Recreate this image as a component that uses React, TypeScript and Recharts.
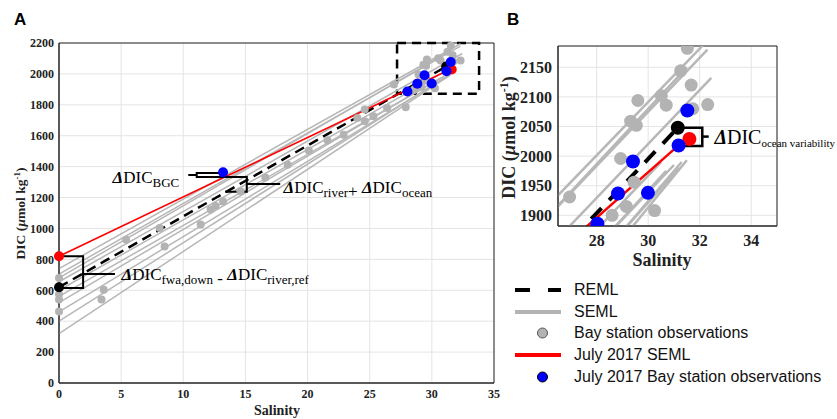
// DIC vs salinity mixing lines: full range (A) and ocean end-member zoom (B)
import React from "react"
import {
  CartesianGrid,
  ComposedChart,
  Line,
  ReferenceArea,
  ReferenceDot,
  Scatter,
  XAxis,
  YAxis,
} from "recharts"

// SEML fits, one entry per line: DIC at salinity 0 and the ocean end point
const semlIntercept = [740, 705, 680, 655, 600, 560, 520, 460, 400, 320]
const semlEndSalinity = [32.3, 32.3, 31.5, 32.45, 30.5, 31.0, 30.7, 31.2, 31.3, 31.5]
const semlEndDic = [2195, 2180, 2150, 2132, 1990, 1985, 1975, 1980, 1990, 1993]

// REML (dashed) end members
const remlSalinity = [0, 31.15]
const remlDic = [620, 2048]

// July 2017 SEML line and its end members
const julySemlSalinity = [0, 31.2]
const julySemlDic = [820, 2019]
const julyEndSalinity = [0, 31.6]
const julyEndDic = [820, 2029]

// Bay station observations (grey)
const baySalinity = [
  0, 0, 0, 0, 3.42, 3.6, 5.4, 8.1, 8.5, 11.4, 12.2, 12.6, 13.2, 14.6, 16.6, 18.4,
  20.1, 21.6, 22.9, 24.0, 24.6, 24.6, 25.3, 26.4, 27.9, 26.95, 28.6, 28.93, 29.15,
  29.45, 30.25, 29.32, 29.54, 29.6, 30.51, 30.7, 31.73, 32.31, 31.67, 31.26, 31.52,
]
const bayDic = [
  680, 575, 540, 463, 541, 604, 927, 1003, 884, 1025, 1122, 1145, 1175, 1240, 1330, 1413,
  1505, 1570, 1607, 1715, 1693, 1769, 1726, 1780, 1785, 1931, 1900, 1996, 1915,
  1956, 1908, 2059, 2052, 2094, 2102, 2086, 2080, 2087, 2120, 2144, 2182,
]

// July 2017 bay station observations (blue)
const julyObsSalinity = [13.2, 28.03, 28.83, 29.99, 29.41, 31.18, 31.52]
const julyObsDic = [1363, 1886, 1937, 1938, 1991, 2018, 2077]

const ticksAX = [0, 5, 10, 15, 20, 25, 30, 35]
const ticksAY = [0, 200, 400, 600, 800, 1000, 1200, 1400, 1600, 1800, 2000, 2200]
const ticksBX = [28, 30, 32, 34]
const ticksBY = [1900, 1950, 2000, 2050, 2100, 2150]

// annotation brackets, [salinity, DIC]
const bracketFwa = [[0, 820], [1.94, 820], [1.94, 615], [0, 615]]
const pointerFwa = [[1.8, 705], [4.5, 705]]
const bracketBgc = [[13.1, 1359], [11.08, 1359], [11.08, 1333], [15.11, 1333], [15.11, 1238], [13.36, 1238]]
const pointerBgc = [[10.4, 1346], [11.08, 1346]]
const pointerRiver = [[15.11, 1288], [17.8, 1288]]
const bracketOcean = [[31.15, 2048], [32.1, 2048], [32.1, 2017], [31.2, 2017]]
const pointerOcean = [[32.1, 2033], [32.35, 2033]]

const SERIF = "'Liberation Serif', 'Times New Roman', serif"
const SANS = "'Liberation Sans', Arial, sans-serif"

type Pt = { s: number; d: number }
const pts = (s: number[], d: number[]): Pt[] => s.map((v, i) => ({ s: v, d: d[i] }))
const path = (a: number[][]): Pt[] => a.map(([s, d]) => ({ s, d }))

const semlLines = semlIntercept.map((d0, i) => [
  { s: 0, d: d0 },
  { s: semlEndSalinity[i], d: semlEndDic[i] },
])
const remlPts = pts(remlSalinity, remlDic)
const julySemlPts = pts(julySemlSalinity, julySemlDic)
const julyEndPts = pts(julyEndSalinity, julyEndDic)
const bayPts = pts(baySalinity, bayDic)
const julyObsPts = pts(julyObsSalinity, julyObsDic)

const circle = (r: number, fill: string) => (p: any) =>
  <circle cx={p.cx} cy={p.cy} r={r} fill={fill} />

type Sizes = {
  grayW: number
  grayR: number
  dotR: number
  dash: string
  dashW: number
  redW: number
}
const sizeA: Sizes = { grayW: 1.5, grayR: 4, dotR: 5, dash: "10 6", dashW: 2.5, redW: 1.6 }
const sizeB: Sizes = { grayW: 2.5, grayR: 6.5, dotR: 7, dash: "15 11", dashW: 4, redW: 2.5 }

function series(sz: Sizes) {
  return [
    ...semlLines.map((data, i) => (
      <Line key={`seml${i}`} data={data} dataKey="d" stroke="#b7b7b7" strokeWidth={sz.grayW}
        dot={false} activeDot={false} isAnimationActive={false} />
    )),
    <Scatter key="bay" data={bayPts} dataKey="d" shape={circle(sz.grayR, "#b3b3b3")} isAnimationActive={false} />,
    <Line key="reml" data={remlPts} dataKey="d" stroke="#000" strokeWidth={sz.dashW}
      strokeDasharray={sz.dash} dot={false} activeDot={false} isAnimationActive={false} />,
    <Line key="july" data={julySemlPts} dataKey="d" stroke="#ff0000" strokeWidth={sz.redW}
      dot={false} activeDot={false} isAnimationActive={false} />,
    <Scatter key="remlEnd" data={remlPts} dataKey="d" shape={circle(sz.dotR, "#000")} isAnimationActive={false} />,
    <Scatter key="julyEnd" data={julyEndPts} dataKey="d" shape={circle(sz.dotR, "#ff0000")} isAnimationActive={false} />,
    <Scatter key="julyObs" data={julyObsPts} dataKey="d" shape={circle(sz.dotR, "#0000ff")} isAnimationActive={false} />,
  ]
}

function annLine(key: string, a: number[][], w: number) {
  return (
    <Line key={key} data={path(a)} dataKey="d" stroke="#000" strokeWidth={w}
      dot={false} activeDot={false} isAnimationActive={false} />
  )
}

// "ΔDIC_sub" terms joined by separators, anchored at baseline-left
function deltaLabel(terms: string[], seps: string[], main: number, sub: number) {
  const shift = Math.round(sub * 0.3)
  return (props: any) => {
    const { x, y } = props.viewBox
    const parts: React.ReactNode[] = []
    terms.forEach((t, i) => {
      parts.push(<tspan key={`d${i}`} fontWeight="bold" fontStyle="italic" dy={i > 0 ? -shift : 0}>Δ</tspan>)
      parts.push(<tspan key={`m${i}`}>DIC</tspan>)
      parts.push(<tspan key={`s${i}`} fontSize={sub} dy={shift}>{t}</tspan>)
      if (seps[i]) parts.push(<tspan key={`p${i}`}>{seps[i]}</tspan>)
    })
    return (
      <text x={x} y={y} fontFamily={SERIF} fontSize={main} fill="#000" style={{ whiteSpace: "pre" }}>
        {parts}
      </text>
    )
  }
}

const tickA = { fontFamily: SERIF, fontSize: 12, fontWeight: "bold", fill: "#222" }
const tickB = { fontFamily: SERIF, fontSize: 16, fontWeight: "bold", fill: "#222" }

function PanelA() {
  return (
    <ComposedChart width={500} height={419} margin={{ top: 43, right: 6, bottom: 16, left: 0 }}>
      <CartesianGrid stroke="#e4e4e4" />
      <XAxis type="number" dataKey="s" domain={[0, 35]} ticks={ticksAX} interval={0} height={20}
        tick={tickA} tickLine={false} tickSize={4} tickMargin={2} axisLine={{ stroke: "#262626" }} />
      <YAxis type="number" dataKey="d" domain={[0, 2200]} ticks={ticksAY} interval={0} width={59}
        tick={tickA} tickLine={false} tickSize={3} tickMargin={2} axisLine={{ stroke: "#262626" }} />
      <ReferenceArea x1={0} x2={35} y1={0} y2={2200} fill="none" fillOpacity={0} stroke="#262626" />
      {series(sizeA)}
      <ReferenceArea x1={27.2} x2={33.8} y1={1872} y2={2200} fill="none" fillOpacity={0}
        stroke="#000" strokeWidth={2.5} strokeDasharray="9 6" />
      {annLine("bFwa", bracketFwa, 2)}
      {annLine("pFwa", pointerFwa, 2)}
      {annLine("bBgc", bracketBgc, 2)}
      {annLine("pBgc", pointerBgc, 2)}
      {annLine("pRiver", pointerRiver, 2)}
      <ReferenceDot x={4.31} y={1294} r={0} fill="none" stroke="none" ifOverflow="visible"
        label={deltaLabel(["BGC"], [], 17, 13)} />
      <ReferenceDot x={18.07} y={1230} r={0} fill="none" stroke="none" ifOverflow="visible"
        label={deltaLabel(["river", "ocean"], ["+ "], 17, 13)} />
      <ReferenceDot x={5.03} y={669} r={0} fill="none" stroke="none" ifOverflow="visible"
        label={deltaLabel(["fwa,down", "river,ref"], [" - "], 17, 13)} />
    </ComposedChart>
  )
}

function PanelB() {
  return (
    <ComposedChart width={337} height={419} margin={{ top: 46, right: 60, bottom: 163, left: 0 }}>
      <CartesianGrid stroke="#e4e4e4" />
      <XAxis type="number" dataKey="s" domain={[26.5, 35]} ticks={ticksBX} interval={0} height={30}
        allowDataOverflow tick={tickB} tickLine={false} tickSize={6} tickMargin={3}
        axisLine={{ stroke: "#262626" }} />
      <YAxis type="number" dataKey="d" domain={[1882, 2186]} ticks={ticksBY} interval={0} width={58}
        allowDataOverflow tick={tickB} tickLine={false} tickSize={4} tickMargin={2}
        axisLine={{ stroke: "#262626" }} />
      <ReferenceArea x1={26.5} x2={35} y1={1882} y2={2186} fill="none" fillOpacity={0} stroke="#262626" />
      {series(sizeB)}
      {annLine("bOcean", bracketOcean, 2.5)}
      {annLine("pOcean", pointerOcean, 2.5)}
      <ReferenceDot x={32.57} y={2021} r={0} fill="none" stroke="none" ifOverflow="visible"
        label={deltaLabel(["ocean variability"], [], 20, 11)} />
    </ComposedChart>
  )
}

const legendItems = [
  { label: "REML", kind: "dash" },
  { label: "SEML", kind: "gray" },
  { label: "Bay station observations", kind: "grayDot" },
  { label: "July 2017 SEML", kind: "red" },
  { label: "July 2017 Bay station observations", kind: "blueDot" },
]

function LegendMark({ kind }: { kind: string }) {
  return (
    <svg width={50} height={14}>
      {kind === "dash" && <line x1={2} x2={48} y1={7} y2={7} stroke="#000" strokeWidth={4} strokeDasharray="15 18" />}
      {kind === "gray" && <line x1={2} x2={48} y1={7} y2={7} stroke="#b3b3b3" strokeWidth={4} />}
      {kind === "red" && <line x1={2} x2={48} y1={7} y2={7} stroke="#ff0000" strokeWidth={4} />}
      {kind === "grayDot" && <circle cx={29.5} cy={7} r={5} fill="#b3b3b3" stroke="#555" strokeWidth={1} />}
      {kind === "blueDot" && <circle cx={29.5} cy={7} r={5} fill="#0000ff" stroke="#000" strokeWidth={1} />}
    </svg>
  )
}

export default function App() {
  return (
    <div style={{ position: "absolute", left: 0, top: 0, width: 837, height: 419, background: "#fff", overflow: "hidden" }}>
      <div style={{ position: "absolute", left: 0, top: 0 }}>
        <PanelA />
      </div>
      <div style={{ position: "absolute", left: 500, top: 0 }}>
        <PanelB />
      </div>
      <svg width={837} height={419} style={{ position: "absolute", left: 0, top: 0, pointerEvents: "none" }}>
        <text x={14} y={25} fontFamily={SANS} fontWeight="bold" fontSize={17}>A</text>
        <text x={507} y={25} fontFamily={SANS} fontWeight="bold" fontSize={17}>B</text>
        <text x={277} y={415} textAnchor="middle" fontFamily={SERIF} fontWeight="bold" fontSize={14} fill="#222">Salinity</text>
        <text transform="translate(25,213.5) rotate(-90)" textAnchor="middle" fontFamily={SERIF} fontWeight="bold" fontSize={13.5} fill="#222">
          DIC (<tspan fontStyle="italic">µ</tspan>mol kg<tspan fontSize={9} dy={-5}>-1</tspan><tspan dy={5}>)</tspan>
        </text>
        <text x={662} y={266} textAnchor="middle" fontFamily={SERIF} fontWeight="bold" fontSize={18} fill="#222">Salinity</text>
        <text transform="translate(515,137.5) rotate(-90)" textAnchor="middle" fontFamily={SERIF} fontWeight="bold" fontSize={18} fill="#222">
          DIC (<tspan fontStyle="italic">µ</tspan>mol kg<tspan fontSize={12} dy={-7}>-1</tspan><tspan dy={7}>)</tspan>
        </text>
      </svg>
      <div style={{ position: "absolute", left: 513, top: 279, fontFamily: SANS, fontSize: 16, color: "#111" }}>
        {legendItems.map((it) => (
          <div key={it.label} style={{ display: "flex", alignItems: "center", height: 21.7, whiteSpace: "nowrap" }}>
            <LegendMark kind={it.kind} />
            <span style={{ marginLeft: 11 }}>{it.label}</span>
          </div>
        ))}
      </div>
    </div>
  )
}
